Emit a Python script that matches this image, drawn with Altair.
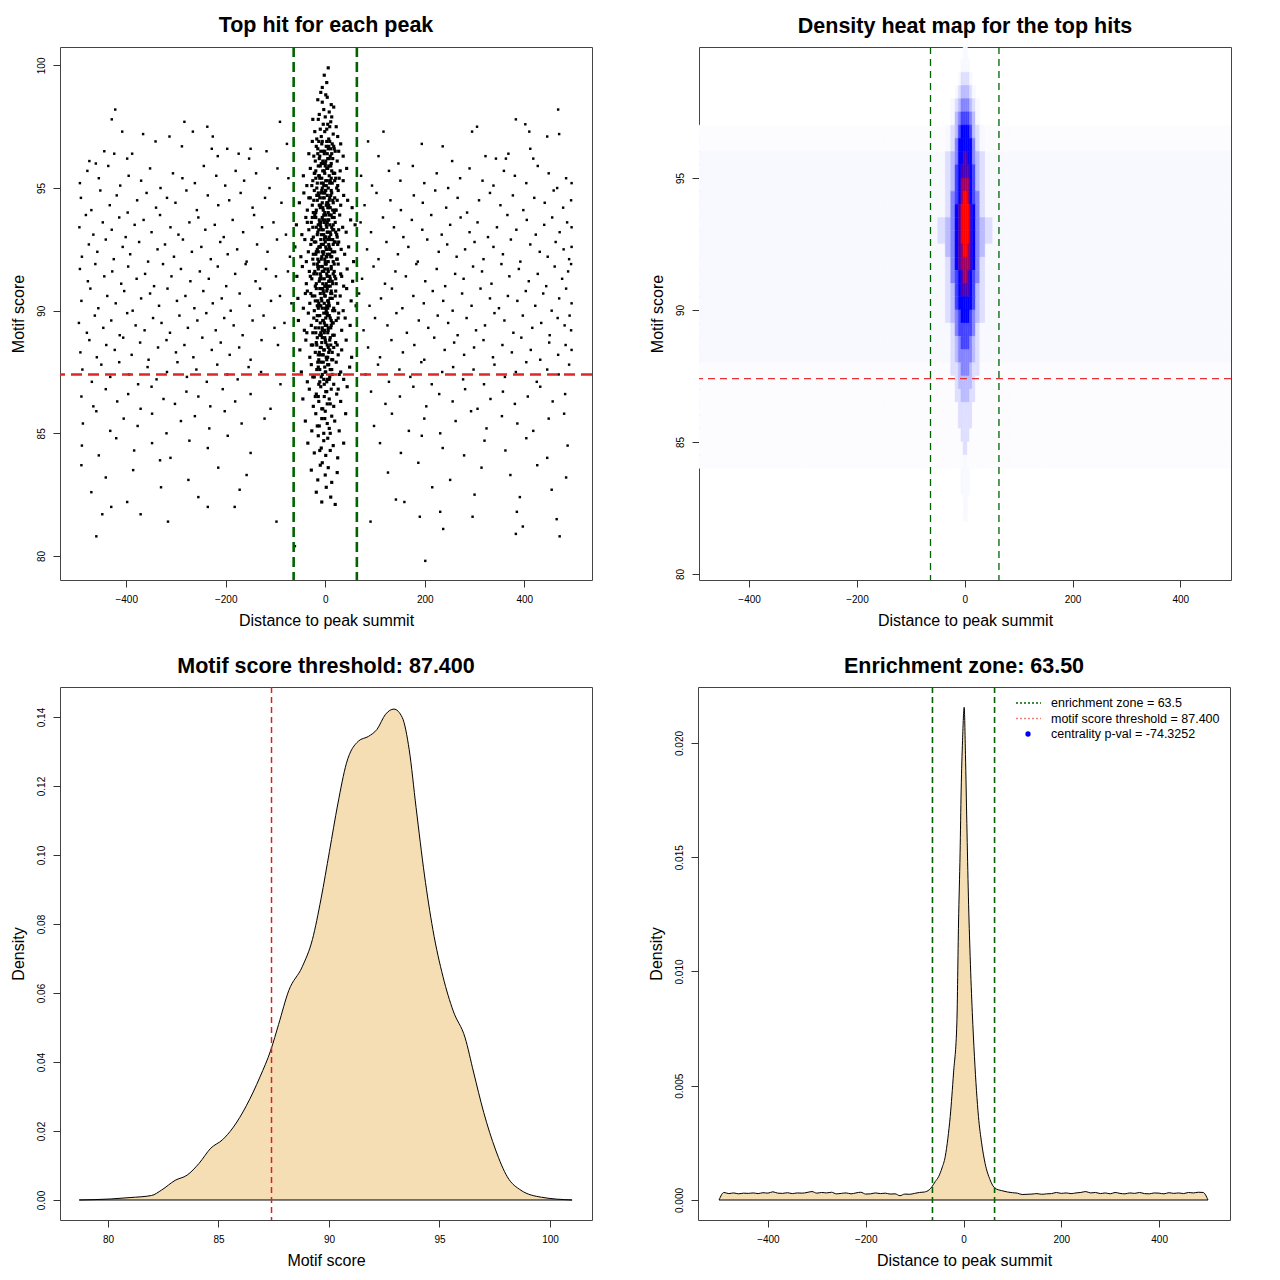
import altair as alt
import pandas as pd

FONT = "Liberation Sans"

# ---------------- thresholds ----------------
enrich_zone = 63.5
score_threshold = 87.4
zone_lines = [-63.5, 63.5]

# ---------------- panel 1: top hit for each peak ----------------
# background hits (away from the summit), per score band: (distances, scores)
bg_bands = [
    ([-422, -429, -408, -366, -283, -266, -237, -226, -313, -91, 468, 383, 402, 410, 446, 470, 295, 305, 117],
     [98.2, 97.8, 97.3, 97.2, 97.7, 97.3, 97.5, 97.1, 97.1, 97.7, 98.2, 97.8, 97.6, 97.3, 97.1, 97.2, 97.3, 97.5, 97.3]),
    ([-288, -444, -424, -398, -388, -228, -216, -197, -174, -153, -150, -461, -474, 236, 194, 412, 418, 368, 363, 322, 343, 147, 107, -118, -341, 255, -77, 86],
     [96.7, 96.5, 96.4, 96.2, 96.4, 96.6, 96.3, 96.6, 96.4, 96.2, 96.6, 96.0, 96.1, 96.7, 96.8, 96.6, 96.2, 96.4, 96.2, 96.3, 96.2, 96.0, 96.3, 96.5, 96.9, 96.1, 96.8, 96.9]),
    ([-493, -478, -455, -436, -412, -395, -370, -352, -331, -306, -287, -262, -244, -219, -201, -180, -163, -139, -112, -96, -74],
     [95.2, 95.7, 95.4, 95.9, 95.1, 95.5, 95.3, 95.8, 95.0, 95.6, 95.4, 95.2, 95.9, 95.5, 95.1, 95.7, 95.3, 95.6, 95.0, 95.8, 95.4]),
    ([72, 94, 128, 151, 176, 199, 224, 247, 271, 290, 316, 338, 359, 381, 404, 427, 449, 466, 484, 495],
     [95.5, 95.1, 95.7, 95.3, 95.9, 95.2, 95.6, 95.0, 95.4, 95.8, 95.3, 95.1, 95.7, 95.5, 95.2, 95.9, 95.6, 95.0, 95.4, 95.2]),
    ([-491, -470, -452, -433, -419, -397, -378, -359, -340, -318, -301, -279, -258, -236, -215, -193, -170, -146, -121, -88],
     [94.6, 94.1, 94.9, 94.3, 94.7, 94.0, 94.5, 94.8, 94.2, 94.6, 94.4, 94.9, 94.1, 94.7, 94.3, 94.5, 94.8, 94.2, 94.6, 94.4]),
    ([79, 103, 131, 152, 178, 196, 221, 243, 266, 285, 309, 331, 352, 377, 398, 420, 441, 459, 478, 494],
     [94.3, 94.8, 94.5, 94.1, 94.7, 94.4, 94.9, 94.2, 94.6, 94.0, 94.5, 94.8, 94.3, 94.7, 94.1, 94.6, 94.4, 94.9, 94.2, 94.5]),
    ([-494, -481, -466, -447, -429, -414, -401, -383, -365, -349, -332, -311, -295, -273, -255, -241, -222, -204, -186, -165, -143, -127, -104, -79],
     [93.4, 93.9, 93.1, 93.6, 93.3, 93.8, 93.0, 93.5, 93.7, 93.2, 93.9, 93.4, 93.1, 93.6, 93.8, 93.3, 93.5, 93.0, 93.7, 93.2, 93.9, 93.4, 93.6, 93.1]),
    ([71, 92, 116, 138, 157, 174, 195, 213, 234, 251, 272, 290, 306, 327, 345, 366, 384, 405, 423, 440, 456, 471, 486, 495],
     [93.6, 93.2, 93.8, 93.4, 93.0, 93.7, 93.3, 93.9, 93.1, 93.5, 93.8, 93.2, 93.6, 93.0, 93.4, 93.9, 93.3, 93.7, 93.1, 93.5, 93.8, 93.2, 93.6, 93.4]),
    ([-489, -475, -458, -441, -425, -407, -392, -374, -356, -337, -322, -304, -286, -268, -249, -230, -211, -196, -177, -158, -137, -116, -97, -71],
     [92.2, 92.7, 92.4, 92.9, 92.1, 92.6, 92.3, 92.8, 92.0, 92.5, 92.7, 92.2, 92.9, 92.4, 92.6, 92.1, 92.8, 92.3, 92.5, 92.0, 92.7, 92.4, 92.9, 92.2]),
    ([84, 107, 123, 146, 167, 186, 205, 228, 245, 264, 281, 300, 318, 338, 357, 373, 392, 412, 431, 447, 463, 479, 490, 495],
     [92.5, 92.1, 92.8, 92.3, 92.6, 92.0, 92.9, 92.4, 92.7, 92.2, 92.5, 92.8, 92.1, 92.6, 92.3, 92.9, 92.0, 92.7, 92.4, 92.2, 92.8, 92.5, 92.1, 92.6]),
    ([-493, -477, -462, -444, -428, -410, -396, -379, -362, -344, -326, -309, -290, -271, -252, -234, -216, -199, -181, -160, -140, -119, -99, -75],
     [91.7, 91.2, 91.9, 91.4, 91.6, 91.1, 91.8, 91.3, 91.5, 91.0, 91.9, 91.4, 91.7, 91.2, 91.6, 91.3, 91.8, 91.0, 91.5, 91.9, 91.2, 91.7, 91.4, 91.6]),
    ([74, 97, 120, 141, 162, 183, 201, 224, 241, 261, 278, 297, 315, 334, 354, 370, 389, 409, 427, 444, 461, 476, 488, 494],
     [91.3, 91.8, 91.1, 91.6, 91.4, 91.9, 91.2, 91.7, 91.0, 91.5, 91.3, 91.8, 91.6, 91.1, 91.9, 91.4, 91.7, 91.2, 91.5, 91.0, 91.8, 91.3, 91.6, 91.9]),
    ([-490, -472, -456, -438, -421, -404, -387, -370, -352, -334, -317, -298, -281, -263, -245, -226, -208, -190, -172, -152, -131, -109, -91, -68],
     [90.4, 90.9, 90.1, 90.6, 90.3, 90.8, 90.0, 90.5, 90.7, 90.2, 90.9, 90.4, 90.6, 90.1, 90.8, 90.3, 90.5, 90.0, 90.7, 90.2, 90.9, 90.4, 90.6, 90.3]),
    ([68, 89, 112, 134, 155, 177, 198, 216, 237, 256, 275, 294, 312, 331, 349, 367, 386, 403, 422, 438, 455, 470, 484, 495],
     [90.7, 90.2, 90.5, 90.9, 90.1, 90.6, 90.3, 90.8, 90.4, 90.0, 90.7, 90.2, 90.9, 90.5, 90.1, 90.6, 90.4, 90.8, 90.2, 90.7, 90.0, 90.5, 90.9, 90.3]),
    ([-495, -479, -463, -446, -430, -413, -398, -381, -363, -346, -329, -312, -293, -276, -257, -239, -220, -203, -184, -166, -146, -124, -102, -82],
     [89.5, 89.1, 89.8, 89.3, 89.6, 89.0, 89.9, 89.4, 89.2, 89.7, 89.5, 89.1, 89.8, 89.3, 89.6, 89.9, 89.2, 89.7, 89.4, 89.0, 89.6, 89.8, 89.3, 89.5]),
    ([77, 100, 125, 143, 164, 188, 207, 226, 247, 266, 284, 303, 321, 340, 360, 378, 397, 416, 434, 451, 467, 481, 491, 494],
     [89.2, 89.7, 89.4, 89.9, 89.1, 89.6, 89.3, 89.8, 89.5, 89.0, 89.7, 89.2, 89.4, 89.9, 89.6, 89.1, 89.8, 89.3, 89.5, 89.0, 89.7, 89.4, 89.8, 89.2]),
    ([-492, -474, -459, -440, -423, -406, -389, -372, -355, -336, -319, -300, -283, -265, -247, -228, -210, -192, -173, -150, -128, -95],
     [88.3, 88.8, 88.1, 88.6, 88.4, 88.9, 88.2, 88.7, 88.0, 88.5, 88.8, 88.3, 88.6, 88.1, 88.9, 88.4, 88.7, 88.2, 88.5, 88.0, 88.8, 88.6]),
    ([86, 110, 133, 156, 179, 199, 219, 240, 259, 279, 299, 318, 337, 356, 375, 394, 413, 432, 450, 468, 483, 495],
     [88.5, 88.1, 88.8, 88.3, 88.6, 88.0, 88.9, 88.4, 88.7, 88.2, 88.5, 88.8, 88.1, 88.6, 88.3, 88.9, 88.4, 88.0, 88.7, 88.2, 88.6, 88.4]),
    ([-488, -469, -450, -432, -414, -394, -376, -357, -339, -318, -297, -278, -259, -238, -217, -197, -176, -154, -129, -90],
     [87.6, 87.1, 87.8, 87.3, 87.9, 87.4, 87.0, 87.7, 87.2, 87.5, 87.9, 87.3, 87.6, 87.1, 87.8, 87.4, 87.2, 87.7, 87.5, 87.0]),
    ([81, 106, 128, 149, 171, 193, 214, 235, 257, 277, 298, 319, 340, 361, 383, 404, 425, 446, 469, 490],
     [87.4, 87.8, 87.1, 87.6, 87.3, 87.9, 87.0, 87.5, 87.7, 87.2, 87.6, 87.0, 87.8, 87.3, 87.5, 87.9, 87.1, 87.6, 87.4, 87.8]),
    ([-490, -466, -441, -418, -396, -371, -349, -325, -302, -279, -255, -231, -206, -181, -150, -110],
     [86.5, 86.1, 86.8, 86.3, 86.6, 86.0, 86.9, 86.4, 86.2, 86.7, 86.5, 86.1, 86.8, 86.3, 86.6, 86.0]),
    ([92, 121, 150, 177, 203, 229, 256, 281, 306, 332, 357, 381, 407, 432, 457, 482],
     [86.7, 86.2, 86.5, 86.9, 86.1, 86.6, 86.3, 86.8, 86.0, 86.4, 86.7, 86.2, 86.5, 86.9, 86.3, 86.6]),
    ([-487, -460, -432, -405, -377, -348, -319, -290, -262, -233, -202, -168, -122],
     [85.4, 85.9, 85.1, 85.6, 85.3, 85.8, 85.0, 85.5, 85.7, 85.2, 85.9, 85.4, 85.6]),
    ([98, 134, 168, 199, 231, 262, 293, 324, 355, 386, 418, 449, 480],
     [85.3, 85.8, 85.1, 85.6, 85.0, 85.5, 85.9, 85.2, 85.7, 85.4, 85.1, 85.6, 85.8]),
    ([-489, -455, -420, -384, -348, -311, -273, -236, -196, -150],
     [84.5, 84.1, 84.8, 84.3, 84.6, 84.0, 84.7, 84.4, 84.9, 84.2]),
    ([110, 152, 194, 236, 279, 320, 362, 404, 446, 487],
     [84.6, 84.2, 84.9, 84.4, 84.1, 84.7, 84.3, 84.8, 84.0, 84.5]),
    ([-490, -441, -386, -332, -275, -215, -158, 126, 187, 251, 314, 372, 426, 484],
     [83.7, 83.2, 83.5, 83.9, 83.1, 83.6, 83.3, 83.4, 83.8, 83.1, 83.6, 83.3, 83.7, 83.2]),
    ([-470, -398, -330, -255, -172, 142, 215, 300, 391, 455],
     [82.6, 82.2, 82.8, 82.4, 82.7, 82.3, 82.8, 82.5, 82.4, 82.7]),
    ([-460, -448, -430, -371, -316, -236, -182, -98, -61, 201, 91, 159, 190, 231, 237, 296, 385, 397, 383, 465, 471],
     [80.8, 81.7, 82.0, 81.7, 81.4, 82.0, 82.0, 81.4, 80.4, 79.8, 81.4, 82.2, 81.6, 81.8, 81.1, 81.6, 81.8, 81.2, 80.9, 81.5, 80.8]),
]

# hits concentrated around the summit, per score band: (distances, scores)
core_bands = [
    ([6, -2, 3, -6], [99.9, 99.6, 99.3, 99.1]),
    ([-9, 4, 12, -3, -15, 8, 1, -6, 17, -12],
     [98.9, 98.7, 98.4, 98.2, 98.6, 98.1, 98.8, 98.5, 98.3, 98.0]),
    ([-21, -14, -8, -4, 0, 3, 7, 11, 16, 22, -17, -1, 5, 13, -10, 25, -25, 9],
     [97.3, 97.8, 97.1, 97.6, 97.9, 97.4, 97.0, 97.7, 97.2, 97.5, 97.0, 97.3, 97.6, 97.9, 97.4, 97.1, 97.8, 97.5]),
    ([-33, -26, -20, -15, -11, -7, -4, -1, 2, 5, 9, 13, 18, 24, 31, -23, -9, 0, 7, 15, -13, 4, 11, -5, 27, 36],
     [96.4, 96.9, 96.1, 96.6, 96.3, 96.8, 96.0, 96.5, 96.7, 96.2, 96.9, 96.4, 96.6, 96.1, 96.8, 96.3, 96.5, 96.0, 96.7, 96.2, 96.9, 96.4, 96.6, 96.1, 96.5, 96.3]),
    ([-44, -37, -30, -25, -21, -17, -14, -11, -8, -5, -3, -1, 1, 3, 6, 8, 11, 14, 17, 21, 25, 30, 36, 43, -19, -6, 0, 9, 19, -12, 4, 13, -27, 28],
     [95.5, 95.1, 95.8, 95.3, 95.6, 95.0, 95.9, 95.4, 95.2, 95.7, 95.1, 95.6, 95.3, 95.8, 95.0, 95.5, 95.9, 95.2, 95.6, 95.4, 95.1, 95.7, 95.3, 95.8, 95.4, 95.0, 95.9, 95.2, 95.6, 95.5, 95.3, 95.7, 95.1, 95.4]),
    ([-52, -43, -36, -30, -26, -22, -19, -16, -13, -10, -8, -6, -4, -2, 0, 2, 4, 6, 8, 10, 13, 16, 19, 22, 26, 31, 37, 45, 54, -24, -11, -1, 7, 15, -17, 5, 12, -5, 24, -33],
     [94.4, 94.8, 94.1, 94.6, 94.3, 94.9, 94.0, 94.5, 94.7, 94.2, 94.8, 94.4, 94.1, 94.6, 94.9, 94.3, 94.7, 94.0, 94.5, 94.2, 94.8, 94.4, 94.6, 94.1, 94.9, 94.3, 94.7, 94.5, 94.2, 94.0, 94.6, 94.8, 94.3, 94.1, 94.7, 94.4, 94.9, 94.2, 94.5, 94.6]),
    ([-58, -47, -39, -33, -28, -24, -21, -18, -15, -12, -10, -8, -6, -4, -2, -1, 1, 3, 5, 7, 9, 11, 14, 17, 20, 24, 29, 35, 42, 51, 60, -26, -13, -3, 4, 12, 21, -9, 0, 8, 16, -19, 27, -36],
     [93.5, 93.1, 93.8, 93.3, 93.6, 93.0, 93.9, 93.4, 93.2, 93.7, 93.5, 93.1, 93.8, 93.3, 93.6, 93.0, 93.9, 93.4, 93.2, 93.7, 93.5, 93.1, 93.8, 93.3, 93.6, 93.0, 93.9, 93.4, 93.2, 93.7, 93.5, 93.8, 93.3, 93.1, 93.6, 93.9, 93.2, 93.4, 93.7, 93.0, 93.5, 93.8, 93.3, 93.6]),
    ([-61, -49, -41, -34, -29, -25, -22, -19, -16, -13, -11, -9, -7, -5, -3, -1, 0, 2, 4, 6, 8, 10, 13, 16, 19, 23, 27, 32, 39, 47, 57, -27, -14, -4, 3, 11, 20, -8, 1, 9, 15, -18, 25, -38],
     [92.6, 92.2, 92.9, 92.4, 92.7, 92.1, 92.8, 92.3, 92.5, 92.0, 92.6, 92.9, 92.2, 92.7, 92.4, 92.1, 92.8, 92.5, 92.3, 92.0, 92.6, 92.9, 92.2, 92.7, 92.4, 92.1, 92.8, 92.5, 92.3, 92.6, 92.0, 92.9, 92.4, 92.7, 92.2, 92.5, 92.8, 92.1, 92.6, 92.3, 92.9, 92.4, 92.7, 92.0]),
    ([-57, -46, -38, -32, -27, -23, -20, -17, -14, -12, -9, -7, -5, -3, -2, 0, 1, 3, 5, 7, 9, 12, 15, 18, 21, 26, 31, 37, 44, 55, -30, -15, -6, 2, 10, 18, -10, -1, 6, 14, -21, 33],
     [91.4, 91.8, 91.1, 91.6, 91.3, 91.9, 91.0, 91.5, 91.7, 91.2, 91.4, 91.8, 91.1, 91.6, 91.3, 91.9, 91.0, 91.5, 91.7, 91.2, 91.4, 91.8, 91.1, 91.6, 91.3, 91.9, 91.5, 91.0, 91.7, 91.2, 91.4, 91.8, 91.6, 91.1, 91.3, 91.9, 91.5, 91.7, 91.0, 91.2, 91.6, 91.4]),
    ([-55, -44, -36, -31, -26, -22, -18, -15, -12, -10, -8, -6, -4, -2, 0, 2, 4, 6, 8, 11, 14, 17, 21, 25, 30, 36, 43, 52, 62, -29, -13, -1, 5, 12, -20, -7, 3, 10, 19, -40],
     [90.5, 90.1, 90.8, 90.3, 90.6, 90.0, 90.9, 90.4, 90.2, 90.7, 90.5, 90.1, 90.8, 90.3, 90.6, 90.0, 90.9, 90.4, 90.2, 90.7, 90.5, 90.1, 90.8, 90.3, 90.6, 90.0, 90.9, 90.4, 90.2, 90.7, 90.3, 90.6, 90.1, 90.8, 90.4, 90.9, 90.2, 90.5, 90.0, 90.7]),
    ([-54, -42, -34, -28, -23, -19, -16, -13, -10, -8, -5, -3, -1, 1, 3, 5, 8, 11, 14, 18, 22, 27, 33, 40, 50, -25, -11, -2, 6, 15, -17, -6, 4, 12, 26, -37],
     [89.6, 89.2, 89.9, 89.4, 89.7, 89.1, 89.8, 89.3, 89.5, 89.0, 89.6, 89.9, 89.2, 89.7, 89.4, 89.1, 89.8, 89.3, 89.5, 89.0, 89.6, 89.9, 89.2, 89.7, 89.4, 89.1, 89.8, 89.5, 89.3, 89.0, 89.6, 89.2, 89.9, 89.4, 89.7, 89.1]),
    ([-51, -39, -31, -25, -20, -16, -13, -10, -7, -4, -2, 0, 2, 4, 7, 10, 13, 17, 21, 26, 33, 42, 53, -28, -12, -1, 6, 15, -18, -6, 9, 24],
     [88.4, 88.8, 88.1, 88.6, 88.3, 88.9, 88.0, 88.5, 88.7, 88.2, 88.4, 88.8, 88.1, 88.6, 88.3, 88.9, 88.0, 88.5, 88.7, 88.2, 88.4, 88.8, 88.1, 88.6, 88.3, 88.9, 88.5, 88.0, 88.7, 88.2, 88.4, 88.6]),
    ([-48, -36, -28, -22, -17, -13, -9, -6, -3, -1, 1, 3, 6, 9, 13, 17, 22, 28, 37, 49, -25, -11, -2, 5, 14, -15, 8, 31],
     [87.5, 87.1, 87.8, 87.3, 87.6, 87.0, 87.9, 87.4, 87.2, 87.7, 87.5, 87.1, 87.8, 87.3, 87.6, 87.0, 87.9, 87.4, 87.2, 87.7, 87.3, 87.6, 87.0, 87.8, 87.4, 87.9, 87.2, 87.5]),
    ([-45, -32, -24, -18, -13, -9, -5, -2, 1, 4, 8, 12, 17, 23, 31, 44, -20, -7, 3, 10, -14, 26],
     [86.4, 86.8, 86.1, 86.6, 86.3, 86.9, 86.0, 86.5, 86.7, 86.2, 86.4, 86.8, 86.1, 86.6, 86.3, 86.9, 86.5, 86.0, 86.7, 86.2, 86.5, 86.8]),
    ([-40, -27, -19, -12, -7, -3, 0, 4, 8, 13, 19, 28, 41, -16, -1, 10],
     [85.5, 85.1, 85.8, 85.3, 85.6, 85.0, 85.9, 85.4, 85.2, 85.7, 85.5, 85.1, 85.8, 85.3, 85.6, 85.0]),
    ([-35, -22, -14, -8, -3, 1, 5, 10, 16, 25, 37, -11],
     [84.6, 84.2, 84.9, 84.4, 84.7, 84.1, 84.8, 84.3, 84.5, 84.0, 84.6, 84.3]),
    ([-28, -15, -6, 0, 6, 13, 24, -10], [83.5, 83.1, 83.8, 83.3, 83.6, 83.0, 83.4, 83.7]),
    ([-18, -7, 2, 11, 20], [82.6, 82.2, 82.8, 82.4, 82.1]),
    # the densest part of the column
    ([-18, -12, -6, -2, 1, 6, 10, 14, 20, -8, 3, -15, 8, 17, -4, 12],
     [96.7, 96.2, 96.9, 96.4, 96.1, 96.6, 96.3, 96.8, 96.5, 96.0, 96.9, 96.4, 96.2, 96.7, 96.5, 96.0]),
    ([-22, -16, -10, -7, -2, 2, 5, 10, 16, 23, -13, -4, 7, 12, -19, 19],
     [95.6, 95.2, 95.9, 95.4, 95.7, 95.1, 95.8, 95.3, 95.6, 95.0, 95.5, 95.2, 95.9, 95.4, 95.7, 95.3]),
    ([-23, -18, -14, -9, -5, -1, 1, 3, 7, 11, 15, 20, -12, -3, 9, 18, -7, 5],
     [94.5, 94.1, 94.8, 94.3, 94.6, 94.0, 94.9, 94.4, 94.2, 94.7, 94.5, 94.1, 94.3, 94.8, 94.6, 94.0, 94.9, 94.2]),
    ([-25, -20, -16, -11, -7, -3, 0, 2, 6, 10, 13, 18, 23, -14, -5, 4, 8, 15, -9, 1],
     [93.4, 93.8, 93.1, 93.6, 93.3, 93.9, 93.0, 93.5, 93.7, 93.2, 93.4, 93.8, 93.1, 93.5, 93.7, 93.2, 93.9, 93.3, 93.6, 93.0]),
    ([-24, -19, -15, -10, -6, -2, 0, 3, 7, 11, 14, 18, 24, -13, -4, 5, 9, 16, -8, 2],
     [92.3, 92.8, 92.1, 92.6, 92.4, 92.9, 92.0, 92.5, 92.7, 92.2, 92.4, 92.8, 92.1, 92.6, 92.3, 92.9, 92.5, 92.0, 92.7, 92.2]),
    ([-23, -18, -13, -8, -4, -1, 2, 4, 8, 12, 16, 22, -11, -6, 6, 10, -16, 19],
     [91.5, 91.1, 91.8, 91.3, 91.6, 91.0, 91.9, 91.4, 91.2, 91.7, 91.5, 91.1, 91.3, 91.8, 91.6, 91.0, 91.9, 91.4]),
    ([-21, -16, -11, -7, -3, 0, 3, 7, 10, 15, 20, -9, -5, 5, 13, -14],
     [90.6, 90.2, 90.9, 90.4, 90.7, 90.1, 90.8, 90.3, 90.5, 90.0, 90.6, 90.2, 90.9, 90.4, 90.7, 90.1]),
    ([-20, -14, -9, -4, 0, 2, 6, 10, 16, -11, -6, 4, 12, -2],
     [89.3, 89.8, 89.1, 89.6, 89.4, 89.9, 89.2, 89.7, 89.5, 89.0, 89.3, 89.8, 89.6, 89.1]),
    ([-17, -11, -6, -3, 1, 5, 9, 14, -8, 3, 11, -14],
     [88.6, 88.2, 88.9, 88.4, 88.7, 88.1, 88.8, 88.3, 88.5, 88.0, 88.6, 88.2]),
    ([-14, -8, -4, 0, 4, 10, -11, 7], [87.7, 87.3, 87.9, 87.5, 87.2, 87.6, 87.1, 87.8]),
]

# ---------------- panel 2: density heat map (intensity code per cell, 0 = white .. a = red) ----------------
heat_x_edges = [-500, -300, -150, -80, -50, -36, -26, -18, -12, -7, -3, 1, 5, 9, 14, 20, 28, 38, 52, 80, 150, 300, 500]
heat_y_edges = [100.0, 99.5, 99.0, 98.5, 98.0, 97.5, 97.0, 96.5, 96.0, 95.5, 95.0, 94.5, 94.0, 93.5, 93.0,
                92.5, 92.0, 91.5, 91.0, 90.5, 90.0, 89.5, 89.0, 88.5, 88.0, 87.5, 87.0, 86.5, 86.0, 85.5,
                85.0, 84.5, 84.0, 83.5, 83.0, 82.5, 82.0, 81.5, 81.0, 80.5, 80.0]
heat_rows = [
    "0000" + "00000022000000" + "0000",
    "0000" + "00000222200000" + "0000",
    "0000" + "00002333320000" + "0000",
    "0000" + "00023444432000" + "0000",
    "0000" + "00234555543200" + "0000",
    "0000" + "00245666654200" + "0000",
    "1111" + "12346777764321" + "1111",
    "1111" + "12357777775321" + "1111",
    "2222" + "23457788775432" + "2222",
    "2222" + "23467888876432" + "2222",
    "2222" + "23467999976432" + "2222",
    "2222" + "235679aa976532" + "2222",
    "2222" + "23578aaaa87532" + "2222",
    "2222" + "34578aaaa87543" + "2222",
    "2222" + "34578aaaa87543" + "2222",
    "2222" + "245789aa987542" + "2222",
    "2222" + "23578999987532" + "2222",
    "2222" + "23567899876532" + "2222",
    "2222" + "23467888876432" + "2222",
    "2222" + "23467777776432" + "2222",
    "2222" + "23456777765432" + "2222",
    "2222" + "22356666665322" + "2222",
    "2222" + "22345666654322" + "2222",
    "2222" + "22345555554322" + "2222",
    "1111" + "11334555543311" + "1111",
    "1111" + "11134444443111" + "1111",
    "1111" + "11133444433111" + "1111",
    "1111" + "11113333331111" + "1111",
    "1111" + "11113333331111" + "1111",
    "1111" + "11111333311111" + "1111",
    "1111" + "11111133111111" + "1111",
    "1111" + "11111122111111" + "1111",
    "0000" + "00000222200000" + "0000",
    "0000" + "00000222200000" + "0000",
    "0000" + "00000022000000" + "0000",
    "0000" + "00000022000000" + "0000",
    "0000" + "00000000000000" + "0000",
    "0000" + "00000000000000" + "0000",
    "0000" + "00000000000000" + "0000",
    "0000" + "00000000000000" + "0000",
]
heat_levels = [1, 2, 3, 4, 5, 6, 7, 8, 9, 10]
heat_colors = ["#FCFCFF", "#F8F8FF", "#DEDEFF", "#BBBBFF", "#8484FF", "#4444FF", "#0000FF",
               "#4A00B5", "#A0005F", "#FF0000"]

# ---------------- panel 3: motif score density ----------------
score_grid = [78.7, 80.13, 81.0, 81.97, 82.43, 83.04, 83.58, 84.12, 84.65, 85.19, 85.65, 86.26, 86.88, 87.37,
              87.72, 88.18, 88.79, 89.25, 89.64, 90.02, 90.4, 90.79, 91.33, 91.79, 92.17, 92.56, 92.94, 93.32,
              93.63, 93.94, 94.32, 94.7, 95.16, 95.62, 96.16, 96.54, 97.0, 97.54, 98.07, 98.69, 99.61, 101.0]
score_density = [0, 0.0003, 0.0007, 0.0013, 0.0029, 0.0057, 0.0072, 0.0106, 0.015, 0.0175, 0.0209, 0.0273,
                 0.0357, 0.0435, 0.0509, 0.0607, 0.0676, 0.0755, 0.0873, 0.101, 0.1148, 0.1266, 0.133, 0.1344,
                 0.1364, 0.1408, 0.1423, 0.1398, 0.1305, 0.1138, 0.0942, 0.0784, 0.0647, 0.0548, 0.047, 0.0371,
                 0.0254, 0.0145, 0.0067, 0.0028, 0.0008, 0]

# ---------------- panel 4: distance density ----------------
dist_grid = [-500, -490, -480, -470, -460, -450, -440, -430, -420, -410, -400, -390, -380, -370, -360, -350,
             -340, -330, -320, -310, -300, -290, -280, -270, -260, -250, -240, -230, -220, -210, -200, -190,
             -180, -170, -160, -150, -140, -130, -120, -110, -100, -90, -80, -70,
             -64.6, -58, -51, -44, -37.4, -32, -27.2, -20.4, -13.6, -10.2, -7, -4.8, -2, 1.4, 4, 6.8, 10, 13.6,
             18, 22.4, 30.6, 37, 44.2, 54.4, 64.6, 78,
             90, 100, 110, 120, 130, 140, 150, 160, 170, 180, 190, 200, 210, 220, 230, 240, 250, 260, 270, 280,
             290, 300, 310, 320, 330, 340, 350, 360, 370, 380, 390, 400, 410, 420, 430, 440, 450, 460, 470, 480,
             490, 500]
dist_density = [0, 0.00033, 0.00028, 0.00031, 0.00027, 0.0003, 0.00029, 0.00031, 0.00028, 0.00032, 0.0003,
                0.00036, 0.0003, 0.00029, 0.00032, 0.00028, 0.00031, 0.0003, 0.00033, 0.00037, 0.0003, 0.00033,
                0.00031, 0.00034, 0.00027, 0.00029, 0.00031, 0.00027, 0.00031, 0.00034, 0.00026, 0.00027,
                0.00031, 0.00028, 0.0003, 0.00026, 0.00027, 0.00019, 0.00026, 0.00025, 0.00029, 0.00033,
                0.00035, 0.00045,
                0.00058, 0.0008, 0.00102, 0.0014, 0.0019, 0.0027, 0.00365, 0.00556, 0.00775, 0.01212, 0.0152,
                0.01794, 0.0201, 0.02156, 0.0195, 0.01648, 0.0133, 0.01065, 0.0082, 0.00627, 0.00365, 0.0025,
                0.0016, 0.00088, 0.00051, 0.00041,
                0.00035, 0.00032, 0.0003, 0.00024, 0.00025, 0.00026, 0.00028, 0.00025, 0.00027, 0.00028,
                0.00033, 0.00029, 0.00031, 0.00028, 0.00031, 0.00033, 0.00037, 0.00031, 0.00033, 0.00028,
                0.00031, 0.00027, 0.00033, 0.00029, 0.00027, 0.00031, 0.00029, 0.00033, 0.00028, 0.00027,
                0.00031, 0.0003, 0.00027, 0.00032, 0.00029, 0.00031, 0.00028, 0.00033, 0.00031, 0.00034,
                0.00033, 0]

legend_labels = ["enrichment zone = 63.5", "motif score threshold = 87.400", "centrality p-val = -74.3252"]
legend_colors = ["#006400", "#F08080", "#0000FF"]

titles = ["Top hit for each peak", "Density heat map for the top hits",
          "Motif score threshold: 87.400", "Enrichment zone: 63.50"]

# ================= build tables =================
bg_pts = []
for xs, ys in bg_bands:
    for x, y in zip(xs, ys):
        bg_pts.append({"dist": x, "score": y})
core_pts = []
for xs, ys in core_bands:
    for x, y in zip(xs, ys):
        core_pts.append({"dist": x, "score": y})
bg_df = pd.DataFrame(bg_pts)
core_df = pd.DataFrame(core_pts)

cells = []
for i, row in enumerate(heat_rows):
    for j, ch in enumerate(row):
        lv = int(ch, 16)
        if lv > 0:
            cells.append({"x0": heat_x_edges[j], "x1": heat_x_edges[j + 1],
                          "y0": heat_y_edges[i + 1], "y1": heat_y_edges[i], "level": lv})
heat_df = pd.DataFrame(cells)

score_df = pd.DataFrame({"score": score_grid, "density": score_density})
dist_df = pd.DataFrame({"dist": dist_grid, "density": dist_density})
zone_df = pd.DataFrame({"dist": zone_lines})
thr_df = pd.DataFrame({"score": [score_threshold]})

W, H = 532, 533
BLACK = "#000000"
GREEN = "#006400"


def xaxis(title, values, fmt=None):
    kw = dict(title=title, values=values, domain=False, grid=False, ticks=True, tickSize=7,
              tickColor="#333", labelFontSize=10, labelPadding=7, labelColor=BLACK, labelFont=FONT,
              titleFont=FONT, titleFontSize=16, titleFontWeight="normal", titleColor=BLACK, titlePadding=8)
    if fmt:
        kw["format"] = fmt
    return alt.Axis(**kw)


def yaxis(title, values, fmt=None):
    kw = dict(title=title, values=values, domain=False, grid=False, ticks=True, tickSize=7,
              tickColor="#333", labelFontSize=10, labelPadding=7, labelColor=BLACK, labelFont=FONT,
              labelAngle=270, labelAlign="center", labelBaseline="bottom",
              titleFont=FONT, titleFontSize=16, titleFontWeight="normal", titleColor=BLACK, titlePadding=10)
    if fmt:
        kw["format"] = fmt
    return alt.Axis(**kw)


def ttl(text):
    return alt.TitleParams(text, font=FONT, fontSize=21.5, fontWeight="bold", color=BLACK, offset=9,
                           anchor="middle")


dist_ticks = [-400, -200, 0, 200, 400]

# ---- panel 1 ----
sx1 = alt.Scale(domain=[-533, 536], nice=False, zero=False)
sy1 = alt.Scale(domain=[79.02, 100.75], nice=False, zero=False)
p1_bg = alt.Chart(bg_df).mark_square(size=6, color=BLACK, opacity=1).encode(
    x=alt.X("dist:Q", scale=sx1, axis=xaxis("Distance to peak summit", dist_ticks)),
    y=alt.Y("score:Q", scale=sy1, axis=yaxis("Motif score", [80, 85, 90, 95, 100])),
)
p1_core = alt.Chart(core_df).mark_square(size=10, color=BLACK, opacity=1).encode(
    x=alt.X("dist:Q", scale=sx1), y=alt.Y("score:Q", scale=sy1))
p1_zone = alt.Chart(zone_df).mark_rule(stroke=GREEN, strokeWidth=2.6, strokeDash=[10, 5]).encode(
    x=alt.X("dist:Q", scale=sx1))
p1_thr = alt.Chart(thr_df).mark_rule(stroke="#DC2828", strokeWidth=2.6, strokeDash=[11, 6]).encode(
    y=alt.Y("score:Q", scale=sy1))
p1 = alt.layer(p1_bg, p1_core, p1_zone, p1_thr).properties(width=W, height=H, title=ttl(titles[0]))

# ---- panel 2 ----
sx2 = alt.Scale(domain=[-493, 494], nice=False, zero=False)
sy2 = alt.Scale(domain=[79.77, 99.96], nice=False, zero=False)
color_scale = alt.Scale(domain=heat_levels, range=heat_colors)
p2_heat = alt.Chart(heat_df).mark_rect(clip=True, strokeWidth=0.5, opacity=1).encode(
    x=alt.X("x0:Q", scale=sx2, axis=xaxis("Distance to peak summit", dist_ticks)),
    x2="x1:Q",
    y=alt.Y("y0:Q", scale=sy2, axis=yaxis("Motif score", [80, 85, 90, 95])),
    y2="y1:Q",
    fill=alt.Fill("level:O", scale=color_scale, legend=None),
    stroke=alt.Stroke("level:O", scale=color_scale, legend=None),
)
p2_zone = alt.Chart(zone_df).mark_rule(stroke=GREEN, strokeWidth=1.3, strokeDash=[7, 5], opacity=1).encode(
    x=alt.X("dist:Q", scale=sx2))
p2_thr = alt.Chart(thr_df).mark_rule(stroke="#E83030", strokeWidth=1.3, strokeDash=[7, 5], opacity=1).encode(
    y=alt.Y("score:Q", scale=sy2))
p2 = alt.layer(p2_heat, p2_zone, p2_thr).properties(width=W, height=H, title=ttl(titles[1]))

# ---- panel 3 ----
sx3 = alt.Scale(domain=[77.83, 101.9], nice=False, zero=False)
sy3 = alt.Scale(domain=[-0.0058, 0.1487], nice=False, zero=False)
p3_area = alt.Chart(score_df).mark_area(color="#F5DEB3", opacity=1, interpolate="monotone").encode(
    x=alt.X("score:Q", scale=sx3, axis=xaxis("Motif score", [80, 85, 90, 95, 100])),
    y=alt.Y("density:Q", scale=sy3,
            axis=yaxis("Density", [0, 0.02, 0.04, 0.06, 0.08, 0.10, 0.12, 0.14], ".2f")),
)
p3_line = alt.Chart(score_df).mark_line(color=BLACK, strokeWidth=1, interpolate="monotone").encode(
    x=alt.X("score:Q", scale=sx3), y=alt.Y("density:Q", scale=sy3))
p3_base = alt.Chart(pd.DataFrame({"a": [score_grid[0]], "b": [score_grid[-1]], "d": [0]})).mark_rule(
    color=BLACK, strokeWidth=1).encode(x=alt.X("a:Q", scale=sx3), x2="b:Q", y=alt.Y("d:Q", scale=sy3))
p3_thr = alt.Chart(thr_df).mark_rule(stroke="#E02020", strokeWidth=1.5, strokeDash=[6, 4]).encode(
    x=alt.X("score:Q", scale=sx3))
p3 = alt.layer(p3_area, p3_line, p3_base, p3_thr).properties(width=W, height=H, title=ttl(titles[2]))

# ---- panel 4 ----
sx4 = alt.Scale(domain=[-543, 545], nice=False, zero=False)
sy4 = alt.Scale(domain=[-0.000875, 0.02245], nice=False, zero=False)
p4_area = alt.Chart(dist_df).mark_area(color="#F5DEB3", opacity=1, interpolate="monotone").encode(
    x=alt.X("dist:Q", scale=sx4, axis=xaxis("Distance to peak summit", dist_ticks)),
    y=alt.Y("density:Q", scale=sy4,
            axis=yaxis("Density", [0, 0.005, 0.010, 0.015, 0.020], ".3f")),
)
p4_line = alt.Chart(dist_df).mark_line(color=BLACK, strokeWidth=1, interpolate="monotone").encode(
    x=alt.X("dist:Q", scale=sx4), y=alt.Y("density:Q", scale=sy4))
p4_base = alt.Chart(pd.DataFrame({"a": [dist_grid[0]], "b": [dist_grid[-1]], "d": [0]})).mark_rule(
    color=BLACK, strokeWidth=1).encode(x=alt.X("a:Q", scale=sx4), x2="b:Q", y=alt.Y("d:Q", scale=sy4))
p4_zone = alt.Chart(zone_df).mark_rule(stroke=GREEN, strokeWidth=1.6, strokeDash=[6, 4]).encode(
    x=alt.X("dist:Q", scale=sx4))

leg_layers = []
for k, (lab, col) in enumerate(zip(legend_labels, legend_colors)):
    ypos = 16 + k * 15.5
    src = alt.Chart(pd.DataFrame({"label": [lab]}))
    if k < 2:
        leg_layers.append(src.mark_rule(stroke=col, strokeWidth=1.3, strokeDash=[2, 2]).encode(
            x=alt.value(318), x2=alt.value(343), y=alt.value(ypos)))
    else:
        leg_layers.append(src.mark_circle(color=col, size=28, opacity=1).encode(
            x=alt.value(330), y=alt.value(ypos)))
    leg_layers.append(src.mark_text(align="left", baseline="middle", font=FONT, fontSize=12.5,
                                    color=BLACK).encode(x=alt.value(353), y=alt.value(ypos), text="label:N"))

p4 = alt.layer(p4_area, p4_line, p4_base, p4_zone, *leg_layers).properties(
    width=W, height=H, title=ttl(titles[3]))

top = alt.hconcat(p1, p2, spacing=54)
bottom = alt.hconcat(p3, p4, spacing=54)
chart = alt.vconcat(top, bottom, spacing=26).properties(
    padding={"left": 1, "top": 6, "right": 5, "bottom": 5}
).configure(font=FONT, background="white").configure_view(stroke="#444", strokeWidth=1)

chart.save("out.html", embed_options={"renderer": "svg", "actions": False})
